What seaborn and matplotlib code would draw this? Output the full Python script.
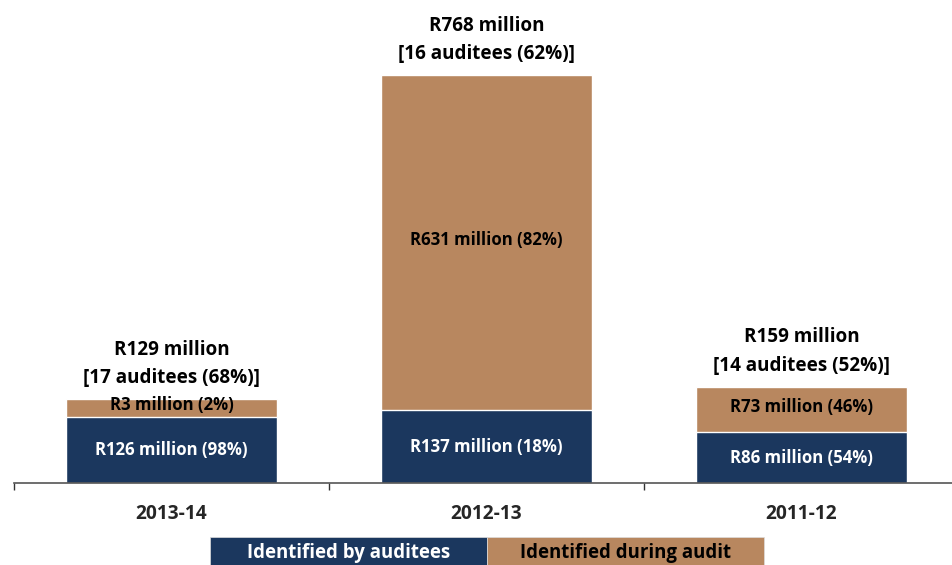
import matplotlib
matplotlib.use("Agg")
import matplotlib.pyplot as plt
import seaborn as sns
import pandas as pd
from matplotlib.patches import Rectangle

# ---- data ----
years = ["2013-14", "2012-13", "2011-12"]
# amounts shown in the labels (R million)
by_auditees_value = [126, 137, 86]
during_audit_value = [3, 631, 73]
by_auditees_pct = [98, 18, 54]
during_audit_pct = [2, 82, 46]
total_value = [129, 768, 159]
auditee_count = [17, 16, 14]
auditee_pct = [68, 62, 52]
# segment lengths as drawn in the picture (same scale as R million)
by_auditees_height = [124, 137, 96]
during_audit_height = [34, 631, 85]
legend_labels = ["Identified by auditees", "Identified during audit"]

NAVY = "#1b375e"
BROWN = "#b8875f"

sns.set_theme(style="white")
plt.rcParams["font.family"] = ["Open Sans", "DejaVu Sans"]
plt.rcParams["font.weight"] = "bold"

df = pd.DataFrame({
    "year": years,
    "bottom": by_auditees_height,
    "total": [a + b for a, b in zip(by_auditees_height, during_audit_height)],
})

fig = plt.figure(figsize=(9.53, 5.65), dpi=100)
ax = fig.add_axes([14 / 953, 82 / 565, 945 / 953, 483 / 565])

sns.barplot(data=df, x="year", y="total", color=BROWN, width=0.667,
            saturation=1, ax=ax, order=years)
sns.barplot(data=df, x="year", y="bottom", color=NAVY, width=0.667,
            saturation=1, ax=ax, order=years)

ymax = 768 * 483 / 408
ax.set_ylim(0, ymax)
ax.set_xlim(-0.5, 2.5)

for i in range(len(years)):
    b = by_auditees_height[i]
    t = b + during_audit_height[i]
    ax.text(i, b / 2, f"R{by_auditees_value[i]} million ({by_auditees_pct[i]}%)",
            ha="center", va="center", color="white", fontsize=12.1, fontweight="bold")
    ax.annotate(f"R{during_audit_value[i]} million ({during_audit_pct[i]}%)",
                xy=(i, b + during_audit_height[i] / 2), xytext=(0, 2),
                textcoords="offset points",
                ha="center", va="center", color="black", fontsize=12.1, fontweight="bold")
    ax.annotate(f"R{total_value[i]} million\n[{auditee_count[i]} auditees ({auditee_pct[i]}%)]",
                xy=(i, t), xytext=(0, 8), textcoords="offset points",
                ha="center", va="bottom", fontsize=13.6, fontweight="bold",
                linespacing=1.55, color="black")

ax.set_xlabel("")
ax.set_ylabel("")
ax.set_yticks([])
ax.set_xticks(range(len(years)))
ax.set_xticklabels(years, fontsize=13.8, fontweight="bold")
ax.set_xticks([-0.5, 0.5, 1.5, 2.5], minor=True)
ax.tick_params(axis="x", which="major", length=0, pad=15)
ax.tick_params(axis="x", which="minor", length=5, width=1, color="#333333",
               direction="out", bottom=True)
for s in ["top", "right", "left"]:
    ax.spines[s].set_visible(False)
ax.spines["bottom"].set_color("#555555")
ax.spines["bottom"].set_linewidth(1.2)
ax.patch.set_alpha(0)

# legend boxes
H = 565.0
W = 953.0
boxes = [(210, 487, NAVY, "white"), (487, 764, BROWN, "black")]
for (x0, x1, fc, tc), lab in zip(boxes, legend_labels):
    fig.add_artist(Rectangle((x0 / W, 0), (x1 - x0) / W, 28 / H,
                             transform=fig.transFigure, facecolor=fc,
                             edgecolor="#dddddd", linewidth=0.5))
    fig.text((x0 + x1) / 2 / W, 12 / H, lab, ha="center", va="center",
             color=tc, fontsize=13.4, fontweight="bold")

fig.savefig("out.png", dpi=100)
